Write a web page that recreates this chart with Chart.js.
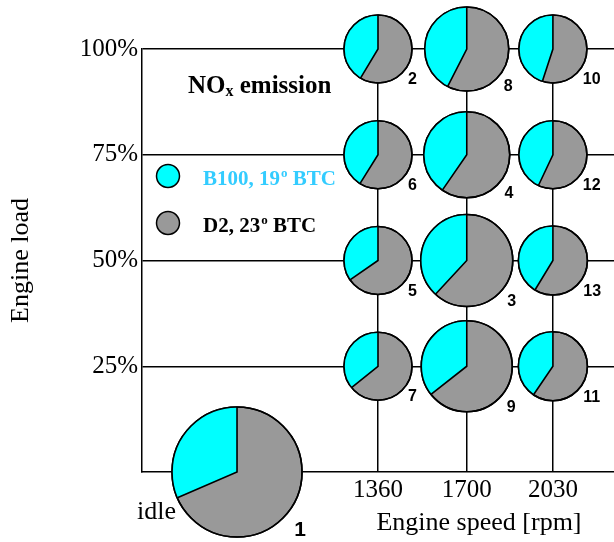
<!DOCTYPE html>
<html>
<head>
<meta charset="utf-8">
<script src="https://cdn.jsdelivr.net/npm/chart.js@4"></script>
<style>
  body { margin: 0; background: #fff; }
  canvas { display: block; }
</style>
</head>
<body>
<canvas id="noxChart" width="614" height="542"></canvas>
<script>
// one entry per test point: number, engine speed, load, pie size, B100 share of the pie
const pieIds    = [1, 2, 3, 4, 5, 6, 7, 8, 9, 10, 11, 12, 13];
const speedRpm  = [820, 1360, 1700, 1700, 1360, 1360, 1360, 1700, 1700, 2030, 2030, 2030, 2030];
const loadPct   = [0, 100, 50, 75, 50, 75, 25, 100, 25, 100, 25, 75, 50];
const pieSize   = [65, 34, 46, 43, 34, 34, 34, 42, 45.5, 34, 34.5, 34, 34.5];
const b100Share = [0.315, 0.414, 0.381, 0.404, 0.346, 0.411, 0.358, 0.425, 0.356, 0.45, 0.405, 0.43, 0.413];

const speedTicks = [1360, 1700, 2030];
const loadTicks  = [25, 50, 75, 100];

// legend text split round the superscript "o"
const seriesNames = [['B100, 19', 'o', ' BTC'], ['D2, 23', 'o', ' BTC']];

const CYAN = '#00ffff';
const GRAY = '#999999';
const SERIF = '"Liberation Serif", "Times New Roman", serif';
const SANS = '"Liberation Sans", Arial, sans-serif';

// cyan wedge + outline + point number on top of each bubble
const pieWedges = {
  id: 'pieWedges',
  afterDatasetsDraw(chart) {
    const ctx = chart.ctx;
    const meta = chart.getDatasetMeta(0);
    meta.data.forEach((pt, i) => {
      const r = pt.options.radius;
      const top = -Math.PI / 2;
      const a = b100Share[i] * Math.PI * 2;
      ctx.save();
      ctx.beginPath();
      ctx.moveTo(pt.x, pt.y);
      ctx.arc(pt.x, pt.y, r, top - a, top);
      ctx.closePath();
      ctx.fillStyle = CYAN;
      ctx.fill();

      ctx.strokeStyle = '#000';
      ctx.lineWidth = 1.6;
      ctx.beginPath();
      ctx.arc(pt.x, pt.y, r, 0, Math.PI * 2);
      ctx.stroke();
      ctx.beginPath();
      ctx.moveTo(pt.x + r * Math.cos(top - a), pt.y + r * Math.sin(top - a));
      ctx.lineTo(pt.x, pt.y);
      ctx.lineTo(pt.x, pt.y - r);
      ctx.stroke();

      ctx.fillStyle = '#000';
      ctx.font = 'bold ' + (pieIds[i] === 1 ? 21 : 16) + 'px ' + SANS;
      ctx.textAlign = 'left';
      ctx.textBaseline = 'middle';
      ctx.fillText(String(pieIds[i]), pt.x + 0.88 * r, pt.y + 0.9 * r);
      ctx.restore();
    });
  }
};

// title, legend, x axis title and the "idle" note
const chartText = {
  id: 'chartText',
  afterDraw(chart) {
    const ctx = chart.ctx;
    ctx.save();
    ctx.fillStyle = '#000';
    ctx.textBaseline = 'alphabetic';

    ctx.font = '26px ' + SERIF;
    ctx.textAlign = 'center';
    ctx.fillText('Engine speed [rpm]', 479, 530);
    ctx.textAlign = 'left';
    ctx.fillText('idle', 137, 519);

    let x = 188;
    ctx.font = 'bold 25px ' + SERIF;
    ctx.fillText('NO', x, 93);
    x += ctx.measureText('NO').width;
    ctx.font = 'bold 16px ' + SERIF;
    ctx.fillText('x', x, 96);
    x += ctx.measureText('x').width;
    ctx.font = 'bold 25px ' + SERIF;
    ctx.fillText(' emission', x, 93);

    const legendY = [176, 223];
    const colors = [CYAN, GRAY];
    const textColors = ['#33ccff', '#000'];
    seriesNames.forEach((parts, i) => {
      ctx.beginPath();
      ctx.arc(168, legendY[i], 11.5, 0, Math.PI * 2);
      ctx.fillStyle = colors[i];
      ctx.fill();
      ctx.strokeStyle = '#000';
      ctx.lineWidth = 1.5;
      ctx.stroke();

      const base = legendY[i] + 8.5;
      let tx = 203;
      ctx.fillStyle = textColors[i];
      ctx.font = 'bold 21px ' + SERIF;
      ctx.fillText(parts[0], tx, base);
      tx += ctx.measureText(parts[0]).width + 1;
      ctx.font = 'bold 13px ' + SERIF;
      ctx.fillText(parts[1], tx, base - 8);
      tx += ctx.measureText(parts[1]).width;
      ctx.font = 'bold 21px ' + SERIF;
      ctx.fillText(parts[2], tx, base);
    });
    ctx.restore();
  }
};

new Chart(document.getElementById('noxChart'), {
  type: 'bubble',
  data: {
    datasets: [{
      label: 'NOx emission',
      data: pieIds.map((id, i) => ({ x: speedRpm[i], y: loadPct[i], r: pieSize[i] })),
      backgroundColor: GRAY,
      borderColor: '#000',
      borderWidth: 1.6,
      clip: false
    }]
  },
  options: {
    responsive: false,
    animation: false,
    events: [],
    layout: { autoPadding: false, padding: { top: 49, right: 0, bottom: 0, left: 0 } },
    plugins: {
      legend: { display: false },
      tooltip: { enabled: false }
    },
    scales: {
      x: {
        type: 'linear',
        min: 456,
        max: 2264,
        afterBuildTicks: s => { s.ticks = speedTicks.map(v => ({ value: v })); },
        afterFit: s => { s.height = 70; },
        grid: { color: '#000', lineWidth: 1.5, drawTicks: false },
        border: { color: '#000', width: 1.5 },
        ticks: {
          color: '#000',
          padding: 3,
          maxRotation: 0,
          autoSkip: false,
          font: { family: SERIF, size: 25 },
          callback: v => String(v)
        }
      },
      y: {
        type: 'linear',
        min: 0,
        max: 100,
        afterBuildTicks: s => { s.ticks = loadTicks.map(v => ({ value: v })); },
        afterFit: s => { s.width = 142; },
        grid: { color: '#000', lineWidth: 1.5, drawTicks: false },
        border: { color: '#000', width: 1.5 },
        ticks: {
          color: '#000',
          padding: 4,
          autoSkip: false,
          font: { family: SERIF, size: 25 },
          callback: v => v + '%'
        },
        title: {
          display: true,
          text: 'Engine load',
          color: '#000',
          font: { family: SERIF, size: 26 },
          padding: { top: 6, bottom: 0 }
        }
      }
    }
  },
  plugins: [pieWedges, chartText]
});
</script>
</body>
</html>
